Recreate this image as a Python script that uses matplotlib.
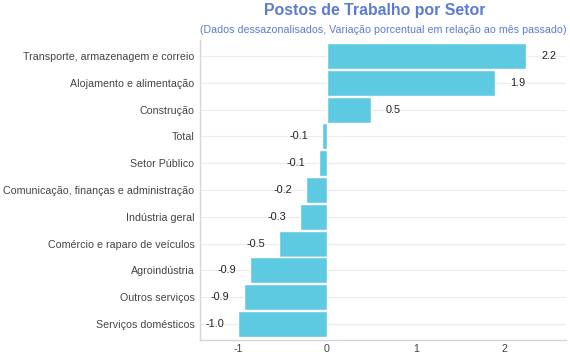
import matplotlib
matplotlib.use("Agg")
import matplotlib.pyplot as plt

plt.rcParams['font.family'] = ['Liberation Sans', 'DejaVu Sans']

setores = ['Transporte, armazenagem e correio', 'Alojamento e alimentação', 'Construção',
           'Total', 'Setor Público', 'Comunicação, finanças e administração', 'Indústria geral',
           'Comércio e raparo de veículos', 'Agroindústria', 'Outros serviços',
           'Serviços domésticos']
variacao = [2.24, 1.89, 0.49, -0.06, -0.09, -0.24, -0.30, -0.54, -0.87, -0.94, -1.0]
rotulos = ['2.2', '1.9', '0.5', '-0.1', '-0.1', '-0.2', '-0.3', '-0.5', '-0.9', '-0.9', '-1.0']

fig = plt.figure(figsize=(5.7, 3.6), dpi=100)
ax = fig.add_axes([200/570, 20/360, 366/570, 300/360])

y = list(range(len(setores)))
ax.barh(y, variacao, height=0.97, color='#5ecae1', edgecolor='white', linewidth=1, zorder=2)

for yi, v, r in zip(y, variacao, rotulos):
    if v >= 0:
        ax.annotate(r, (v, yi), xytext=(11, 0), textcoords='offset points',
                    ha='left', va='center', fontsize=7.8, color='#222222')
    else:
        ax.annotate(r, (v, yi), xytext=(-10, 0), textcoords='offset points',
                    ha='right', va='center', fontsize=7.8, color='#222222')

ax.set_yticks(y)
ax.set_yticklabels(setores, fontsize=7.7, color='#444444')
ax.set_ylim(len(setores) - 0.4, -0.6)
ax.set_xlim(-1.43, 2.69)
ax.set_xticks([-1, 0, 1, 2])
ax.set_xticklabels(['-1', '0', '1', '2'], fontsize=7.7, color='#444444')
ax.tick_params(axis='y', length=0, pad=4)
ax.tick_params(axis='x', length=0, pad=3)
ax.grid(axis='y', color='#ececec', linewidth=0.8, zorder=0)
ax.grid(axis='x', visible=False)
for s in ['top', 'right']:
    ax.spines[s].set_visible(False)
for s in ['left', 'bottom']:
    ax.spines[s].set_color('#d6d6d6')
    ax.spines[s].set_linewidth(1)

fig.text(375/570, 1 - 11/360, 'Postos de Trabalho por Setor', ha='center', va='center',
         fontsize=11.4, fontweight='bold', color='#5b7bd5')
fig.text(383/570, 1 - 30/360, '(Dados dessazonalisados, Variação porcentual em relação ao mês passado)',
         ha='center', va='center', fontsize=7.65, color='#5b7bd5')

fig.savefig('out.png', dpi=100)
